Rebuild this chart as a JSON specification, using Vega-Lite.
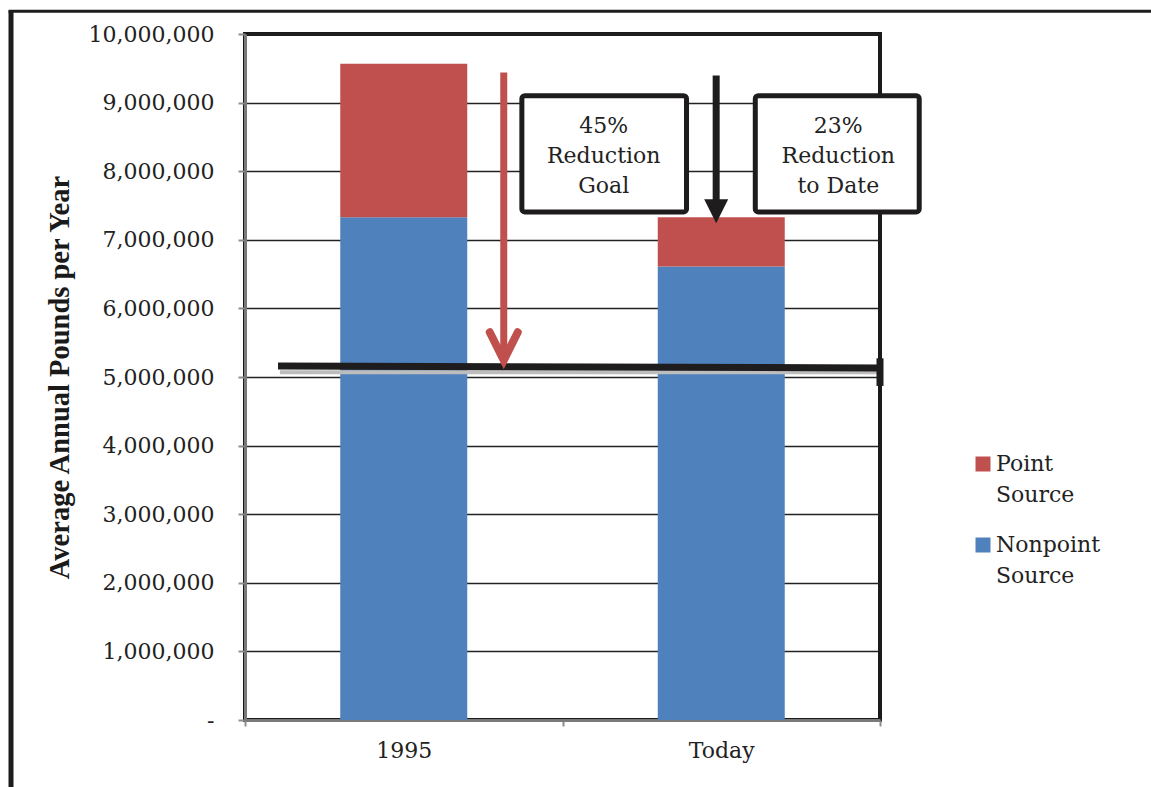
{
  "$schema": "https://vega.github.io/schema/vega-lite/v6.json",
  "width": 635,
  "height": 686,
  "autosize": {"type": "none"},
  "padding": {"left": 245, "top": 34, "right": 271, "bottom": 67},
  "background": "white",
  "config": {
    "font": "DejaVu Serif",
    "view": {"stroke": "#1a1a1a", "strokeWidth": 4},
    "axis": {"labelFontSize": 22, "labelColor": "#222222", "labelFont": "DejaVu Serif"}
  },
  "datasets": {
    "loads": [
      {"period": "1995", "source": "Nonpoint Source", "pounds": 7330000},
      {"period": "1995", "source": "Point Source", "pounds": 2236000},
      {"period": "Today", "source": "Nonpoint Source", "pounds": 6610000},
      {"period": "Today", "source": "Point Source", "pounds": 720000}
    ],
    "goalLine": [{"x": 0.104, "x2": 2.0, "y": 5160000, "y2": 5132000}],
    "goalShadow": [{"x": 0.11, "x2": 2.0, "y": 5070000}],
    "goalEnd": [{"x": 2.0, "y": 5273000, "y2": 4870000}],
    "arrows": [
      {"arrow": "goal", "x": 0.815, "top": 9440000, "end": 5300000, "head": 5448000},
      {"arrow": "progress", "x": 1.484, "top": 9395000, "end": 7500000, "head": 7417000}
    ],
    "callouts": [
      {"x": 0.872, "x2": 1.3906, "y": 9101000, "y2": 7407000, "cx": 1.1298, "cy": 8653000, "label": "45%\nReduction\nGoal"},
      {"x": 1.6072, "x2": 2.1235, "y": 9101000, "y2": 7407000, "cx": 1.8687, "cy": 8653000, "label": "23%\nReduction\nto Date"}
    ],
    "frameLeft": [{"x": -0.737, "y": 10332000, "y2": -1000000}],
    "frameTop": [{"x": -0.745, "x2": 2.9, "y": 10332000}]
  },
  "layer": [
    {
      "data": {"name": "loads"},
      "mark": {"type": "bar", "width": {"band": 0.4}},
      "encoding": {
        "x": {
          "field": "period",
          "type": "nominal",
          "scale": {"domain": ["1995", "Today"], "paddingInner": 0, "paddingOuter": 0},
          "axis": {
            "title": null,
            "tickBand": "extent",
            "labelAngle": 0,
            "tickColor": "#8c8c8c",
            "tickSize": 6,
            "tickWidth": 2,
            "domainColor": "#7a7a7a",
            "domainWidth": 3,
            "labelFontSize": 22,
            "labelPadding": 14,
            "labelColor": "#222222",
            "grid": false
          }
        },
        "y": {
          "field": "pounds",
          "type": "quantitative",
          "stack": "zero",
          "title": "Average Annual Pounds per Year",
          "scale": {"domain": [0, 10000000], "nice": false},
          "axis": {
            "values": [0, 1000000, 2000000, 3000000, 4000000, 5000000, 6000000, 7000000, 8000000, 9000000, 10000000],
            "format": ",d",
            "labelExpr": "datum.value == 0 ? '-\u00a0\u00a0' : datum.label",
            "grid": true,
            "gridColor": "#222222",
            "gridWidth": 1.5,
            "tickColor": "#8c8c8c",
            "tickSize": 7,
            "tickWidth": 2,
            "domainColor": "#7a7a7a",
            "domainWidth": 3,
            "labelFontSize": 22,
            "labelColor": "#222222",
            "labelPadding": 24,
            "titleFont": "Liberation Serif",
            "titleFontWeight": "bold",
            "titleFontSize": 28.5,
            "titleColor": "#1a1a1a",
            "titlePadding": 14
          }
        },
        "color": {
          "field": "source",
          "type": "nominal",
          "scale": {"domain": ["Point Source", "Nonpoint Source"], "range": ["#c0504d", "#4f81bd"]},
          "legend": {
            "title": null,
            "orient": "none",
            "legendX": 727,
            "legendY": 419,
            "symbolType": "square",
            "symbolSize": 225,
            "symbolStrokeWidth": 0,
            "labelFontSize": 22,
            "labelColor": "#222222",
            "labelOffset": 2,
            "labelLimit": 0,
            "labelExpr": "split(datum.label, ' ')",
            "rowPadding": 28,
            "padding": 0,
            "encode": {"labels": {"update": {"lineHeight": {"value": 31}}}}
          }
        },
        "order": {"field": "source", "sort": "ascending"}
      }
    },
    {
      "layer": [
        {
          "data": {"name": "goalShadow"},
          "mark": {"type": "rule", "color": "#bdbdbd", "strokeWidth": 4},
          "encoding": {
            "x": {"field": "x", "type": "quantitative", "scale": {"domain": [0, 2], "nice": false, "zero": false}, "axis": null},
            "x2": {"field": "x2"},
            "y": {"field": "y", "type": "quantitative", "title": "Average Annual Pounds per Year"}
          }
        },
        {
          "data": {"name": "goalLine"},
          "mark": {"type": "rule", "color": "#1e1c1c", "strokeWidth": 7},
          "encoding": {
            "x": {"field": "x", "type": "quantitative", "axis": null},
            "x2": {"field": "x2"},
            "y": {"field": "y", "type": "quantitative", "title": "Average Annual Pounds per Year"},
            "y2": {"field": "y2"}
          }
        },
        {
          "data": {"name": "goalEnd"},
          "mark": {"type": "rule", "color": "#1e1c1c", "strokeWidth": 7},
          "encoding": {
            "x": {"field": "x", "type": "quantitative", "axis": null},
            "y": {"field": "y", "type": "quantitative", "title": "Average Annual Pounds per Year"},
            "y2": {"field": "y2"}
          }
        },
        {
          "data": {"name": "arrows"},
          "transform": [{"filter": "datum.arrow == 'goal'"}],
          "mark": {"type": "rule", "color": "#c0504d", "strokeWidth": 7},
          "encoding": {
            "x": {"field": "x", "type": "quantitative", "axis": null},
            "y": {"field": "top", "type": "quantitative", "title": "Average Annual Pounds per Year"},
            "y2": {"field": "end"}
          }
        },
        {
          "data": {"name": "arrows"},
          "transform": [{"filter": "datum.arrow == 'goal'"}],
          "mark": {"type": "point", "shape": "M-1,-1L0,1L1,-1", "size": 784, "filled": false, "stroke": "#c0504d", "strokeWidth": 8, "strokeCap": "round", "strokeJoin": "miter", "opacity": 1},
          "encoding": {
            "x": {"field": "x", "type": "quantitative", "axis": null},
            "y": {"field": "head", "type": "quantitative", "title": "Average Annual Pounds per Year"}
          }
        },
        {
          "data": {"name": "arrows"},
          "transform": [{"filter": "datum.arrow == 'progress'"}],
          "mark": {"type": "rule", "color": "#1e1c1c", "strokeWidth": 7},
          "encoding": {
            "x": {"field": "x", "type": "quantitative", "axis": null},
            "y": {"field": "top", "type": "quantitative", "title": "Average Annual Pounds per Year"},
            "y2": {"field": "end"}
          }
        },
        {
          "data": {"name": "arrows"},
          "transform": [{"filter": "datum.arrow == 'progress'"}],
          "mark": {"type": "point", "shape": "M-1,-1L1,-1L0,1Z", "size": 576, "filled": true, "fill": "#1e1c1c", "strokeWidth": 0, "opacity": 1},
          "encoding": {
            "x": {"field": "x", "type": "quantitative", "axis": null},
            "y": {"field": "head", "type": "quantitative", "title": "Average Annual Pounds per Year"}
          }
        },
        {
          "data": {"name": "callouts"},
          "mark": {"type": "rect", "fill": "white", "stroke": "#1e1c1c", "strokeWidth": 5, "cornerRadius": 3},
          "encoding": {
            "x": {"field": "x", "type": "quantitative", "axis": null},
            "x2": {"field": "x2"},
            "y": {"field": "y", "type": "quantitative", "title": "Average Annual Pounds per Year"},
            "y2": {"field": "y2"}
          }
        },
        {
          "data": {"name": "callouts"},
          "mark": {"type": "text", "lineBreak": "\n", "fontSize": 22, "lineHeight": 30, "align": "center", "baseline": "middle", "color": "#222222"},
          "encoding": {
            "x": {"field": "cx", "type": "quantitative", "axis": null},
            "y": {"field": "cy", "type": "quantitative", "title": "Average Annual Pounds per Year"},
            "text": {"field": "label"}
          }
        },
        {
          "data": {"name": "frameLeft"},
          "mark": {"type": "rule", "color": "#1e1c1c", "strokeWidth": 5},
          "encoding": {
            "x": {"field": "x", "type": "quantitative", "axis": null},
            "y": {"field": "y", "type": "quantitative", "title": "Average Annual Pounds per Year"},
            "y2": {"field": "y2"}
          }
        },
        {
          "data": {"name": "frameTop"},
          "mark": {"type": "rule", "color": "#1e1c1c", "strokeWidth": 3},
          "encoding": {
            "x": {"field": "x", "type": "quantitative", "axis": null},
            "x2": {"field": "x2"},
            "y": {"field": "y", "type": "quantitative", "title": "Average Annual Pounds per Year"}
          }
        }
      ]
    }
  ],
  "resolve": {"scale": {"x": "independent"}, "axis": {"x": "independent"}}
}
